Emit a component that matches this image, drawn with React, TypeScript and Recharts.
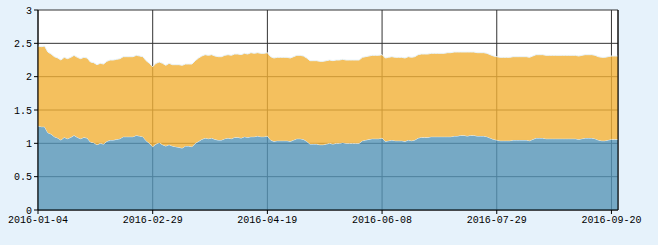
import { AreaChart, Area, XAxis, YAxis, CartesianGrid, ReferenceLine } from 'recharts';

document.body.style.margin = '0';
document.body.style.background = '#e6f2fb';

// trading days (Shanghai market), starting 2016-01-04
const startDate = '2016-01-04';
const holidays = ['2016-02-08', '2016-02-09', '2016-02-10', '2016-02-11', '2016-02-12', '2016-04-04', '2016-05-02', '2016-06-09', '2016-06-10', '2016-09-15', '2016-09-16'];

const tickDates = ['2016-01-04', '2016-02-29', '2016-04-19', '2016-06-08', '2016-07-29', '2016-09-20'];
const yTicks = [0, 0.5, 1, 1.5, 2, 2.5, 3];

const blueValues = [
    1.26, 1.25, 1.25, 1.16, 1.14, 1.10, 1.08, 1.05, 1.09, 1.07,
    1.09, 1.12, 1.09, 1.07, 1.09, 1.08, 1.02, 1.01, 0.98, 1.00,
    0.99, 1.03, 1.05, 1.05, 1.06, 1.07, 1.10, 1.10, 1.10, 1.10,
    1.12, 1.11, 1.10, 1.04, 1.00, 0.95, 0.99, 1.01, 0.98, 0.96,
    0.98, 0.96, 0.95, 0.94, 0.93, 0.96, 0.96, 0.95, 1.00, 1.03,
    1.06, 1.08, 1.07, 1.08, 1.06, 1.05, 1.05, 1.07, 1.08, 1.07,
    1.09, 1.09, 1.08, 1.10, 1.09, 1.10, 1.10, 1.11, 1.10, 1.10,
    1.11, 1.05, 1.03, 1.04, 1.04, 1.04, 1.04, 1.03, 1.05, 1.07,
    1.07, 1.06, 1.03, 0.99, 0.99, 0.99, 0.98, 0.98, 0.99, 1.00,
    0.99, 1.00, 1.00, 1.01, 1.00, 1.00, 1.00, 1.00, 1.00, 1.04,
    1.05, 1.06, 1.07, 1.07, 1.07, 1.08, 1.03, 1.04, 1.05, 1.04,
    1.04, 1.04, 1.03, 1.05, 1.04, 1.05, 1.08, 1.09, 1.09, 1.09,
    1.10, 1.10, 1.10, 1.10, 1.10, 1.10, 1.10, 1.11, 1.11, 1.12,
    1.12, 1.11, 1.12, 1.12, 1.11, 1.11, 1.11, 1.10, 1.08, 1.06,
    1.05, 1.04, 1.04, 1.04, 1.04, 1.05, 1.05, 1.05, 1.05, 1.05,
    1.04, 1.06, 1.08, 1.08, 1.08, 1.07, 1.07, 1.07, 1.07, 1.07,
    1.07, 1.07, 1.07, 1.07, 1.07, 1.06, 1.07, 1.08, 1.08, 1.08,
    1.07, 1.05, 1.04, 1.04, 1.05, 1.06, 1.06, 1.06,
];

const orangeValues = [
    1.20, 1.20, 1.21, 1.21, 1.20, 1.20, 1.20, 1.20, 1.20, 1.20,
    1.20, 1.20, 1.20, 1.20, 1.20, 1.20, 1.20, 1.20, 1.20, 1.20,
    1.20, 1.20, 1.20, 1.20, 1.20, 1.20, 1.20, 1.20, 1.20, 1.20,
    1.20, 1.20, 1.20, 1.20, 1.20, 1.20, 1.21, 1.21, 1.22, 1.21,
    1.22, 1.22, 1.23, 1.24, 1.24, 1.23, 1.23, 1.24, 1.24, 1.25,
    1.25, 1.25, 1.25, 1.25, 1.25, 1.25, 1.25, 1.25, 1.25, 1.25,
    1.25, 1.25, 1.25, 1.25, 1.25, 1.26, 1.25, 1.25, 1.25, 1.25,
    1.25, 1.25, 1.25, 1.25, 1.25, 1.25, 1.25, 1.25, 1.25, 1.25,
    1.25, 1.25, 1.25, 1.25, 1.25, 1.25, 1.25, 1.25, 1.25, 1.25,
    1.25, 1.25, 1.25, 1.25, 1.25, 1.25, 1.25, 1.25, 1.25, 1.25,
    1.25, 1.25, 1.25, 1.25, 1.25, 1.25, 1.25, 1.25, 1.25, 1.25,
    1.25, 1.25, 1.25, 1.25, 1.25, 1.25, 1.25, 1.25, 1.25, 1.25,
    1.25, 1.25, 1.25, 1.25, 1.25, 1.26, 1.26, 1.26, 1.26, 1.25,
    1.25, 1.26, 1.25, 1.25, 1.25, 1.25, 1.25, 1.25, 1.25, 1.25,
    1.25, 1.25, 1.25, 1.25, 1.25, 1.25, 1.25, 1.25, 1.25, 1.25,
    1.25, 1.25, 1.25, 1.25, 1.25, 1.25, 1.25, 1.25, 1.25, 1.25,
    1.25, 1.25, 1.25, 1.25, 1.25, 1.25, 1.25, 1.25, 1.25, 1.25,
    1.25, 1.25, 1.25, 1.25, 1.25, 1.25, 1.25, 1.25,
];

function tradingDays(start: string, count: number) {
    const out: string[] = [];
    const d = new Date(start + 'T00:00:00Z');
    while (out.length < count) {
        const s = d.toISOString().slice(0, 10);
        const wd = d.getUTCDay();
        if (wd !== 0 && wd !== 6 && !holidays.includes(s)) out.push(s);
        d.setUTCDate(d.getUTCDate() + 1);
    }
    return out;
}

const dates = tradingDays(startDate, blueValues.length);
const data = dates.map((date, i) => ({ date, blue: blueValues[i], orange: orangeValues[i] }));

const tickStyle = { fontSize: 10, fill: '#000', fontFamily: '"Liberation Mono", monospace' };

export default function App() {
    return (
        <div style={{ width: 658, height: 245, background: '#e6f2fb' }}>
            <AreaChart width={658} height={245} data={data} margin={{ top: 10, right: 40, left: 0, bottom: 0 }}>
                <CartesianGrid stroke="#333" fill="#fff" strokeOpacity={1} />
                <XAxis
                    dataKey="date"
                    ticks={tickDates}
                    interval={0}
                    height={35}
                    tickSize={4}
                    stroke="#000"
                    tick={tickStyle}
                />
                <YAxis
                    domain={[0, 3]}
                    ticks={yTicks}
                    width={38}
                    tickSize={4}
                    stroke="#000"
                    tick={tickStyle}
                />
                <Area type="linear" dataKey="blue" stackId="a" stroke="#e8f4fc" strokeWidth={1} fill="#5494b7" fillOpacity={0.8} isAnimationActive={false} />
                <Area type="linear" dataKey="orange" stackId="a" stroke="#e8f4fc" strokeWidth={1} fill="#f1b036" fillOpacity={0.8} isAnimationActive={false} />
                <ReferenceLine x={dates[dates.length - 1]} stroke="#000" />
            </AreaChart>
        </div>
    );
}
